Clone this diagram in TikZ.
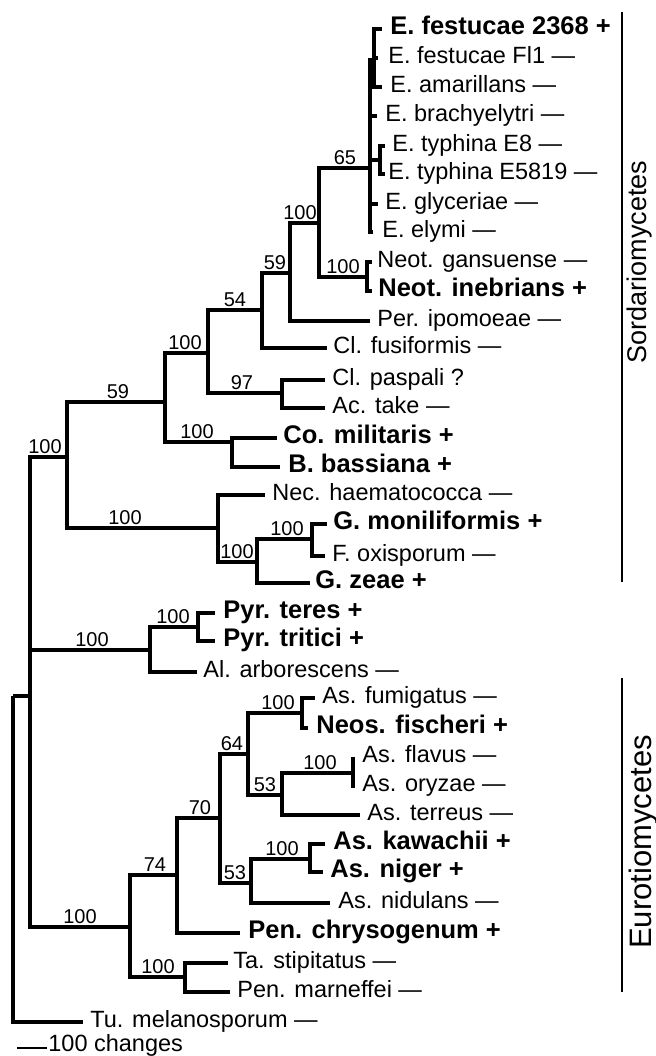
\documentclass[tikz,border=0pt]{standalone}
\usepackage{fontspec}
\setmainfont{Liberation Sans}
\usetikzlibrary{positioning}

\begin{document}
\begin{tikzpicture}[
  x=0.5pt, y=-0.5pt,
  branch/.style={line width=1.95pt},
  cladebar/.style={line width=1.3pt},
  taxon/.style={anchor=west, inner sep=0pt, text height=1.5ex, text depth=0.5ex, font=\fontsize{11.75}{14}\selectfont},
  taxonplus/.style={taxon, font=\fontsize{12.75}{15}\selectfont\bfseries},
  boot/.style={anchor=south, inner sep=0pt, font=\fontsize{10}{12}\selectfont},
  clade/.style={rotate=90, inner sep=0pt, font=\fontsize{13.5}{16}\selectfont}
]
  \useasboundingbox (0,0) rectangle (655,1056);

  % internal nodes
  \coordinate (root) at (13,696);
  \coordinate (asco) at (30,696);
  \coordinate (sord) at (67,457);
  \coordinate (n59b) at (165,402);
  \coordinate (n100c) at (208,353);
  \coordinate (n54) at (262,310);
  \coordinate (n59a) at (290,273);
  \coordinate (n100b) at (319,223);
  \coordinate (epi) at (370,168);
  \coordinate (efes) at (374,60);
  \coordinate (etyp) at (380,160);
  \coordinate (neot) at (367,277);
  \coordinate (clav) at (282,393);
  \coordinate (cord) at (232,442);
  \coordinate (nect) at (218,528);
  \coordinate (fusa) at (257,562);
  \coordinate (gibb) at (312,539);
  \coordinate (pleo) at (150,650);
  \coordinate (pyre) at (198,627);
  \coordinate (euro) at (130,927);
  \coordinate (n74) at (177,875);
  \coordinate (n70) at (220,818);
  \coordinate (n64) at (248,754);
  \coordinate (afum) at (302,713);
  \coordinate (n53a) at (282,795);
  \coordinate (afla) at (353,773);
  \coordinate (n53b) at (251,883);
  \coordinate (anig) at (310,859);
  \coordinate (tala) at (185,977);

  % tips
  \coordinate (efes2368) at (382,29);
  \coordinate (efesfl1) at (378,58);
  \coordinate (eama) at (382,87);
  \coordinate (ebra) at (377,116);
  \coordinate (etype8) at (385,146);
  \coordinate (etype5819) at (385,174);
  \coordinate (egly) at (378,204);
  \coordinate (eely) at (373,232);
  \coordinate (ngan) at (372,262);
  \coordinate (nine) at (372,291);
  \coordinate (pipo) at (370,321);
  \coordinate (cfus) at (327,348);
  \coordinate (cpas) at (325,380);
  \coordinate (atak) at (325,408);
  \coordinate (cmil) at (277,438);
  \coordinate (bbas) at (280,467);
  \coordinate (nhae) at (265,495);
  \coordinate (gmon) at (327,524);
  \coordinate (foxi) at (325,556);
  \coordinate (gzea) at (310,583);
  \coordinate (pter) at (215,613);
  \coordinate (ptri) at (215,641);
  \coordinate (aarb) at (197,672);
  \coordinate (asfum) at (315,698);
  \coordinate (nfis) at (308,728);
  \coordinate (asfla) at (353,757);
  \coordinate (asory) at (353,788);
  \coordinate (aster) at (360,815);
  \coordinate (askaw) at (325,844);
  \coordinate (asnig) at (323,872);
  \coordinate (asnid) at (330,903);
  \coordinate (pchr) at (240,933);
  \coordinate (tsti) at (228,963);
  \coordinate (pmar) at (230,992);
  \coordinate (tmel) at (83,1022);

  % backbone
  \draw[branch] (root) |- (asco) (root) |- (tmel);
  \draw[branch] (asco) |- (sord) (asco) |- (pleo) (asco) |- (euro);

  % Sordariomycetes
  \draw[branch] (sord) |- (n59b) (sord) |- (nect);
  \draw[branch] (n59b) |- (n100c) (n59b) |- (cord);
  \draw[branch] (n100c) |- (n54) (n100c) |- (clav);
  \draw[branch] (n54) |- (n59a) (n54) |- (cfus);
  \draw[branch] (n59a) |- (n100b) (n59a) |- (pipo);
  \draw[branch] (n100b) |- (epi) (n100b) |- (neot);
  \draw[branch] (epi) |- (efes) (epi) |- (ebra) (epi) |- (etyp) (epi) |- (egly) (epi) |- (eely);
  \draw[branch] (efes) |- (efes2368) (efes) |- (efesfl1) (efes) |- (eama);
  \draw[branch] (etyp) |- (etype8) (etyp) |- (etype5819);
  \draw[branch] (neot) |- (ngan) (neot) |- (nine);
  \draw[branch] (clav) |- (cpas) (clav) |- (atak);
  \draw[branch] (cord) |- (cmil) (cord) |- (bbas);
  \draw[branch] (nect) |- (nhae) (nect) |- (fusa);
  \draw[branch] (fusa) |- (gibb) (fusa) |- (gzea);
  \draw[branch] (gibb) |- (gmon) (gibb) |- (foxi);

  % Dothideomycetes
  \draw[branch] (pleo) |- (pyre) (pleo) |- (aarb);
  \draw[branch] (pyre) |- (pter) (pyre) |- (ptri);

  % Eurotiomycetes
  \draw[branch] (euro) |- (n74) (euro) |- (tala);
  \draw[branch] (n74) |- (n70) (n74) |- (pchr);
  \draw[branch] (n70) |- (n64) (n70) |- (n53b);
  \draw[branch] (n64) |- (afum) (n64) |- (n53a);
  \draw[branch] (afum) |- (asfum) (afum) |- (nfis);
  \draw[branch] (n53a) |- (afla) (n53a) |- (aster);
  \draw[branch] (afla) |- (asfla) (afla) |- (asory);
  \draw[branch] (n53b) |- (anig) (n53b) |- (asnid);
  \draw[branch] (anig) |- (askaw) (anig) |- (asnig);
  \draw[branch] (tala) |- (tsti) (tala) |- (pmar);

  % bootstrap values
  \node[boot] (b-sord) at (45,454) {100};
  \node[boot] (b-n59b) at (118,399) {59};
  \node[boot] (b-n100c) at (185,350) {100};
  \node[boot] (b-n54) at (235,307) {54};
  \node[boot] (b-n59a) at (275,270) {59};
  \node[boot] (b-n100b) at (300,220) {100};
  \node[boot] (b-epi) at (345,165) {65};
  \node[boot] (b-neot) at (343,274) {100};
  \node[boot] (b-clav) at (242,390) {97};
  \node[boot] (b-cord) at (197,439) {100};
  \node[boot] (b-nect) at (125,525) {100};
  \node[boot] (b-fusa) at (237,559) {100};
  \node[boot] (b-gibb) at (287,536) {100};
  \node[boot] (b-pleo) at (92,647) {100};
  \node[boot] (b-pyre) at (173,624) {100};
  \node[boot] (b-euro) at (80,924) {100};
  \node[boot] (b-n74) at (155,872) {74};
  \node[boot] (b-n70) at (200,815) {70};
  \node[boot] (b-n64) at (232,751) {64};
  \node[boot] (b-afum) at (278,710) {100};
  \node[boot] (b-n53a) at (265,792) {53};
  \node[boot] (b-afla) at (320,770) {100};
  \node[boot] (b-n53b) at (235,880) {53};
  \node[boot] (b-anig) at (282,856) {100};
  \node[boot] (b-tala) at (158,974) {100};

  % taxon names
  \node[taxonplus] (l-efes2368) at (390,29) {E. festucae 2368 +};
  \node[taxon] (l-efesfl1) at (388,58) {E. festucae Fl1 ---};
  \node[taxon] (l-eama) at (390,87) {E. amarillans ---};
  \node[taxon] (l-ebra) at (385,116) {E. brachyelytri ---};
  \node[taxon] (l-etype8) at (392,146) {E. typhina E8 ---};
  \node[taxon] (l-etype5819) at (388,174) {E. typhina E5819 ---};
  \node[taxon] (l-egly) at (385,204) {E. glyceriae ---};
  \node[taxon] (l-eely) at (382,232) {E. elymi ---};
  \node[taxon] (l-ngan) at (377,262) {Neot. gansuense ---};
  \node[taxonplus] (l-nine) at (378,291) {Neot. inebrians +};
  \node[taxon] (l-pipo) at (377,321) {Per. ipomoeae ---};
  \node[taxon] (l-cfus) at (333,348) {Cl. fusiformis ---};
  \node[taxon] (l-cpas) at (332,380) {Cl. paspali ?};
  \node[taxon] (l-atak) at (332,408) {Ac. take ---};
  \node[taxonplus] (l-cmil) at (283,438) {Co. militaris +};
  \node[taxonplus] (l-bbas) at (288,467) {B. bassiana +};
  \node[taxon] (l-nhae) at (272,495) {Nec. haematococca ---};
  \node[taxonplus] (l-gmon) at (333,524) {G. moniliformis +};
  \node[taxon] (l-foxi) at (332,556) {F. oxisporum ---};
  \node[taxonplus] (l-gzea) at (315,583) {G. zeae +};
  \node[taxonplus] (l-pter) at (223,613) {Pyr. teres +};
  \node[taxonplus] (l-ptri) at (223,641) {Pyr. tritici +};
  \node[taxon] (l-aarb) at (203,672) {Al. arborescens ---};
  \node[taxon] (l-asfum) at (322,698) {As. fumigatus ---};
  \node[taxonplus] (l-nfis) at (316,728) {Neos. fischeri +};
  \node[taxon] (l-asfla) at (362,757) {As. flavus ---};
  \node[taxon] (l-asory) at (362,786) {As. oryzae ---};
  \node[taxon] (l-aster) at (367,815) {As. terreus ---};
  \node[taxonplus] (l-askaw) at (333,844) {As. kawachii +};
  \node[taxonplus] (l-asnig) at (330,872) {As. niger +};
  \node[taxon] (l-asnid) at (338,903) {As. nidulans ---};
  \node[taxonplus] (l-pchr) at (248,933) {Pen. chrysogenum +};
  \node[taxon] (l-tsti) at (233,963) {Ta. stipitatus ---};
  \node[taxon] (l-pmar) at (237,992) {Pen. marneffei ---};
  \node[taxon] (l-tmel) at (90,1022) {Tu. melanosporum ---};

  % scale bar
  \coordinate (scale-l) at (17,1048);
  \coordinate (scale-r) at (47,1048);
  \draw[line width=1.4pt] (scale-l) -- (scale-r);
  \node[taxon] (l-scale) at (48,1046) {100 changes};

  % class bars
  \coordinate (sord-top) at (622,12);
  \coordinate (sord-bot) at (622,582);
  \draw[cladebar] (sord-top) -- (sord-bot);
  \node[clade] (l-sord) at (640,262) {Sordariomycetes};
  \coordinate (euro-top) at (622,678);
  \coordinate (euro-bot) at (622,992);
  \draw[cladebar] (euro-top) -- (euro-bot);
  \node[clade, font=\fontsize{15.5}{18}\selectfont] (l-euro) at (643,842) {Eurotiomycetes};
\end{tikzpicture}
\end{document}
